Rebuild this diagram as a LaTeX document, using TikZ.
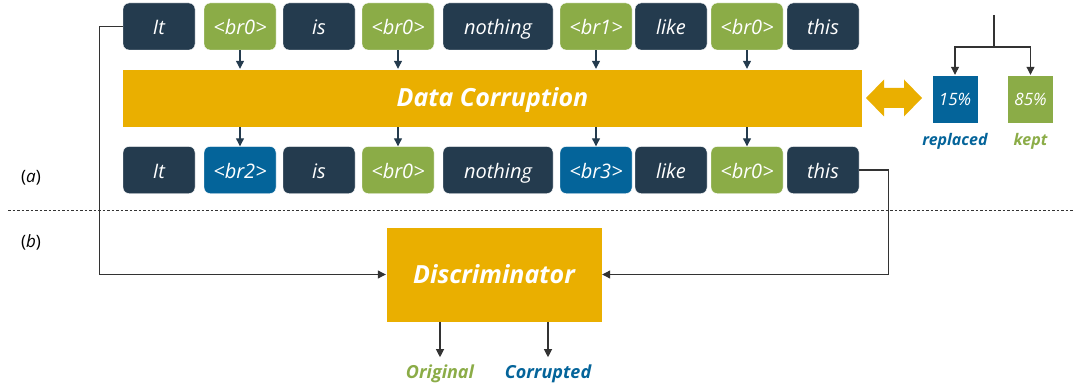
\documentclass[tikz,border=0pt]{standalone}
\usepackage{fontspec}
\setmainfont{Open Sans}
\usetikzlibrary{shapes.arrows, positioning, arrows.meta}
\definecolor{tokDark}{HTML}{243B4E}
\definecolor{tokGreen}{HTML}{8BAC47}
\definecolor{tokBlue}{HTML}{04649A}
\definecolor{barGold}{HTML}{EAAF00}
\definecolor{lineGray}{HTML}{333333}

\begin{document}
\begin{tikzpicture}[x=1pt,y=-1pt,
      tok/.style={rounded corners=6pt,draw=white,thin,inner sep=0pt,minimum height=47pt,
        minimum width=72pt,text=white,text height=16pt,text depth=0pt,
        font=\fontsize{20}{24}\selectfont\itshape},
      word/.style={tok,fill=tokDark},
      brkept/.style={tok,fill=tokGreen},
      brrepl/.style={tok,fill=tokBlue},
      block/.style={fill=barGold,draw=white,thin,inner sep=0pt,text=white,
        text height=18pt,text depth=0pt,font=\fontsize{25}{28}\selectfont\bfseries\itshape},
      share/.style={draw=white,thin,inner sep=0pt,minimum width=46pt,minimum height=48pt,
        text=white,font=\fontsize{17}{20}\selectfont\itshape},
      lab/.style={inner sep=0pt,font=\fontsize{18}{21}\selectfont\bfseries\itshape},
      tokedge/.style={-{Triangle[width=8pt,length=8pt]},line width=1.2pt,draw=tokDark},
      conn/.style={-{Triangle[width=8pt,length=8pt]},line width=1.1pt,draw=lineGray},
      >=Triangle
    ]
    \useasboundingbox (0,0) rectangle (1073,385);
    % input sentence
    \node[word]   (t0) at (159,26.5) {It};
    \node[brkept] (t1) at (240,26.5) {<br0>};
    \node[word]   (t2) at (319,26.5) {is};
    \node[brkept] (t3) at (398,26.5) {<br0>};
    \node[word,minimum width=110pt] (t4) at (498,26.5) {nothing};
    \node[brkept] (t5) at (596,26.5) {<br1>};
    \node[word]   (t6) at (671,26.5) {like};
    \node[brkept] (t7) at (747,26.5) {<br0>};
    \node[word]   (t8) at (823,26.5) {this};
    \node[block,minimum width=740pt,minimum height=58pt] (corrupt) at (492.5,98) {Data Corruption};
    % corrupted sentence
    \node[word]   (b0) at (159,170) {It};
    \node[brrepl] (b1) at (240,170) {<br2>};
    \node[word]   (b2) at (319,170) {is};
    \node[brkept] (b3) at (398,170) {<br0>};
    \node[word,minimum width=110pt] (b4) at (498,170) {nothing};
    \node[brrepl] (b5) at (596,170) {<br3>};
    \node[word]   (b6) at (671,170) {like};
    \node[brkept] (b7) at (747,170) {<br0>};
    \node[word]   (b8) at (823,170) {this};
    \foreach \i in {1,3,5,7}{
      \draw[tokedge] (t\i) -- (t\i |- corrupt.north);
      \draw[tokedge] (corrupt.south -| b\i) -- (b\i);
    }
    % replacement ratio
    \fill[barGold] (866,98) -- (884,79.5) -- (884,88) -- (904,88) -- (904,79.5) -- (922,98)
      -- (904,116.5) -- (904,108) -- (884,108) -- (884,116.5) -- cycle;
    \node[share,fill=tokBlue]  (rep)  at (955,99)  {15\%};
    \node[share,fill=tokGreen] (keep) at (1030.5,99) {85\%};
    \node[lab,text=tokBlue,below=10pt of rep,font=\fontsize{16}{19}\selectfont\bfseries\itshape] (replab) {replaced};
    \node[lab,text=tokGreen,below=10pt of keep,font=\fontsize{16}{19}\selectfont\bfseries\itshape] (keeplab) {kept};
    \coordinate (split) at (994,15);
    \coordinate (fork) at (994,47);
    \draw[line width=1.1pt,draw=lineGray] (split) -- (fork);
    \draw[conn] (fork) -| (rep.north);
    \draw[conn] (fork) -| (keep.north);
    % separator
    \draw[dashed,dash pattern=on 2.5pt off 2pt,line width=0.9pt,draw=lineGray] (8,210) -- (1073,210);
    \node[font=\fontsize{17}{20}\selectfont] (parta) at (31,178) {(\textit{a})};
    \node[font=\fontsize{17}{20}\selectfont] (partb) at (31,242) {(\textit{b})};
    % discriminator
    \node[block,text height=17pt,minimum width=216pt,minimum height=95pt] (disc) at (494,274.5) {Discriminator};
    \draw[conn] (t0.west) -- ++(-23,0) |- (disc.west);
    \draw[conn] (b8.east) -- ++(29,0) |- (disc.east);
    \node[lab,text=tokGreen] (orig) at (440,374) {Original};
    \node[lab,text=tokBlue]  (corr) at (548,374) {Corrupted};
    \draw[conn] (disc.south -| orig) -- ++(0,35);
    \draw[conn] (disc.south -| corr) -- ++(0,35);
  \end{tikzpicture}
\end{document}
